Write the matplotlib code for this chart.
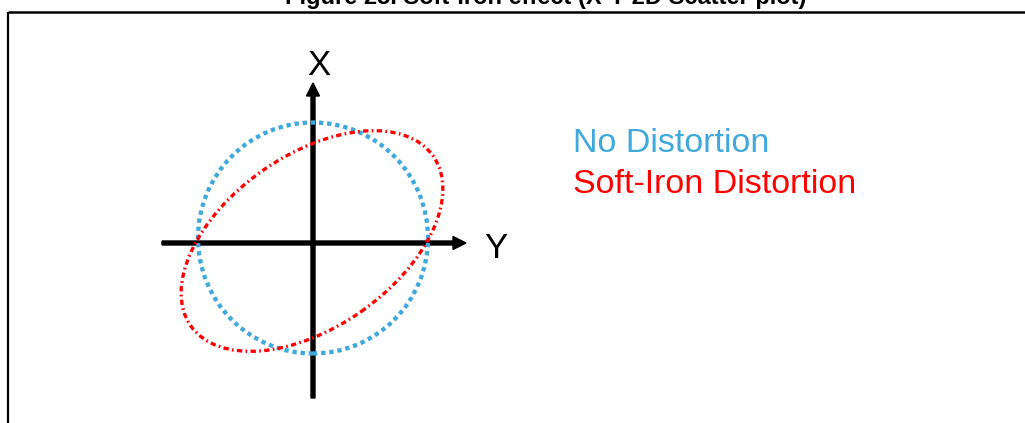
import matplotlib.pyplot as plt
from matplotlib.patches import Ellipse

plt.rcParams['font.family'] = ['Liberation Sans', 'DejaVu Sans']

# schematic geometry, in pixel units with the origin at the axis crossing
title = 'Figure 25. Soft-Iron effect (X-Y 2D Scatter plot)'
axis_labels = ['X', 'Y']
series_names = ['No Distortion', 'Soft-Iron Distortion']
series_colors = ['#3FA9DB', '#FF0000']

# no distortion: circle (center x, center y, width, height, angle)
circle_params = [0, 5, 230, 231, 0]
# soft-iron distortion: tilted ellipse
ellipse_params = [-1, 2, 296, 172, 35]

# axis extents
y_axis_range = [-151, 153]   # horizontal axis (Y)
x_axis_range = [-155, 160]   # vertical axis (X)

fig = plt.figure(figsize=(10.25, 4.23), dpi=100)
ax = fig.add_axes([0, 0, 1, 1])
ax.set_xlim(-313, 712)
ax.set_ylim(-180, 243)
ax.axis('off')

# frame lines (top and left edge of the figure box)
ax.plot([-305, 712], [231, 231], color='black', lw=1.8, solid_capstyle='butt')
ax.plot([-305, -305], [231, -180], color='black', lw=1.6, solid_capstyle='butt')

# title, cut off by the top edge like in the source
fig.text(546 / 1025, 1 - 4 / 423, title, ha='center', va='baseline',
         fontsize=17, fontweight='bold')

# axes with arrows
ax.arrow(y_axis_range[0], 0, y_axis_range[1] - y_axis_range[0], 0, width=4,
         head_width=13, head_length=13, length_includes_head=True,
         color='black', zorder=1)
ax.arrow(0, x_axis_range[0], 0, x_axis_range[1] - x_axis_range[0], width=4,
         head_width=13, head_length=13, length_includes_head=True,
         color='black', zorder=1)

ax.text(6, 168, axis_labels[0], fontsize=25, ha='center', va='baseline')
ax.text(183, -15, axis_labels[1], fontsize=25, ha='center', va='baseline')

# curves
cx, cy, w, h, ang = circle_params
ax.add_patch(Ellipse((cx, cy), w, h, angle=ang, fill=False,
                     edgecolor=series_colors[0], lw=3.1,
                     linestyle=(0, (1.0, 0.9)), capstyle='butt', zorder=2))
cx, cy, w, h, ang = ellipse_params
ax.add_patch(Ellipse((cx, cy), w, h, angle=ang, fill=False,
                     edgecolor=series_colors[1], lw=2.4,
                     linestyle=(0, (1.6, 1.0, 0.5, 1.0)), capstyle='butt', zorder=3))

# legend text
ax.text(260, 91, series_names[0], color=series_colors[0], fontsize=24.5,
        ha='left', va='baseline')
ax.text(260, 50, series_names[1], color=series_colors[1], fontsize=24.5,
        ha='left', va='baseline')

fig.savefig('out.png', dpi=100)
